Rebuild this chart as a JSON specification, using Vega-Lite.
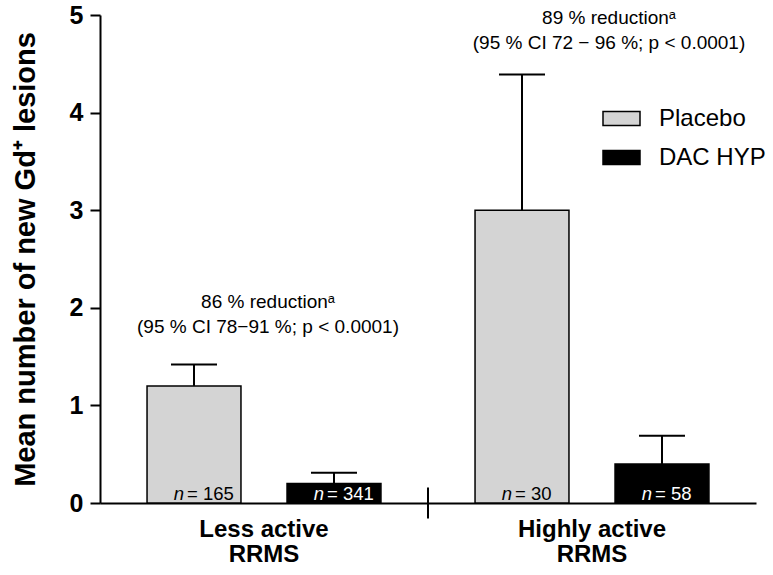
{
  "$schema": "https://vega.github.io/schema/vega-lite/v6.json",
  "autosize": "none",
  "width": 656,
  "height": 488,
  "padding": {"left": 100, "top": 15, "right": 17, "bottom": 72},
  "background": "white",
  "config": {
    "font": "Liberation Sans",
    "view": {"stroke": null}
  },
  "datasets": {
    "bars": [
      {"group": "Less active RRMS", "treatment": "Placebo", "mean": 1.2, "upper": 1.42, "nlabel": "= 165"},
      {"group": "Less active RRMS", "treatment": "DAC HYP", "mean": 0.2, "upper": 0.31, "nlabel": "= 341"},
      {"group": "Highly active RRMS", "treatment": "Placebo", "mean": 3.0, "upper": 4.39, "nlabel": "= 30"},
      {"group": "Highly active RRMS", "treatment": "DAC HYP", "mean": 0.4, "upper": 0.69, "nlabel": "= 58"}
    ],
    "notes": [
      {"group": "Less active RRMS", "y": 2.0, "label": "86 % reductionᵃ\n(95 % CI 78−91 %; p < 0.0001)"},
      {"group": "Highly active RRMS", "y": 4.91, "label": "89 % reductionᵃ\n(95 % CI 72 − 96 %; p < 0.0001)"}
    ],
    "divider": [
      {"group": "Highly active RRMS", "lo": -0.16, "hi": 0.16}
    ]
  },
  "encoding": {
    "x": {
      "field": "group",
      "type": "nominal",
      "scale": {"domain": ["Less active RRMS", "Highly active RRMS"], "paddingInner": 0, "paddingOuter": 0},
      "axis": {
        "title": null,
        "ticks": false,
        "labelAngle": 0,
        "labelFontSize": 24,
        "labelFontWeight": "bold",
        "labelColor": "black",
        "labelPadding": 14,
        "labelLineHeight": 25,
        "labelExpr": "[replace(datum.label, ' RRMS', ''), 'RRMS']",
        "domainColor": "black",
        "domainWidth": 2
      }
    }
  },
  "layer": [
    {
      "data": {"name": "bars"},
      "mark": {"type": "rule", "stroke": "black", "strokeWidth": 2},
      "encoding": {
        "xOffset": {"field": "treatment", "type": "nominal", "scale": {"domain": ["Placebo", "DAC HYP"], "paddingInner": 0.329, "paddingOuter": 0.336}},
        "y": {"field": "mean", "type": "quantitative"},
        "y2": {"field": "upper"}
      }
    },
    {
      "data": {"name": "bars"},
      "mark": {"type": "tick", "size": 46, "thickness": 2, "color": "black", "opacity": 1},
      "encoding": {
        "xOffset": {"field": "treatment", "type": "nominal"},
        "y": {"field": "upper", "type": "quantitative"}
      }
    },
    {
      "data": {"name": "bars"},
      "mark": {"type": "bar", "stroke": "black", "strokeWidth": 1.5, "opacity": 1},
      "encoding": {
        "xOffset": {"field": "treatment", "type": "nominal"},
        "y": {
          "field": "mean",
          "type": "quantitative",
          "scale": {"domain": [0, 5], "nice": false},
          "axis": {
            "values": [0, 1, 2, 3, 4, 5],
            "format": "d",
            "title": "Mean number of new Gd⁺ lesions",
            "titleFontSize": 29,
            "titleFontWeight": "bold",
            "titleColor": "black",
            "titleX": -75,
            "titleY": 244,
            "titleAlign": "center",
            "titleBaseline": "middle",
            "titleAngle": -90,
            "labelFontSize": 25,
            "labelFontWeight": "bold",
            "labelColor": "black",
            "labelPadding": 7,
            "tickSize": 10,
            "tickWidth": 2,
            "tickColor": "black",
            "domainColor": "black",
            "domainWidth": 2,
            "grid": false
          }
        },
        "fill": {
          "field": "treatment",
          "type": "nominal",
          "scale": {"domain": ["Placebo", "DAC HYP"], "range": ["#d4d4d4", "#000000"]},
          "legend": {
            "title": null,
            "orient": "none",
            "legendX": 502,
            "legendY": 84,
            "padding": 0,
            "labelFontSize": 24,
            "labelColor": "black",
            "labelOffset": 18,
            "rowPadding": 7,
            "symbolType": "M-1,-0.38L1,-0.38L1,0.38L-1,0.38Z",
            "symbolSize": 1369,
            "symbolStrokeColor": "black",
            "symbolStrokeWidth": 1.5,
            "symbolOpacity": 1
          }
        }
      }
    },
    {
      "data": {"name": "bars"},
      "mark": {"type": "text", "text": "n", "fontStyle": "italic", "fontSize": 18.5, "align": "right", "baseline": "alphabetic", "dx": -10, "dy": -3},
      "encoding": {
        "xOffset": {"field": "treatment", "type": "nominal"},
        "y": {"datum": 0},
        "color": {"condition": {"test": "datum.treatment === 'DAC HYP'", "value": "white"}, "value": "black"}
      }
    },
    {
      "data": {"name": "bars"},
      "mark": {"type": "text", "fontSize": 18.5, "align": "left", "baseline": "alphabetic", "dx": -7, "dy": -3},
      "encoding": {
        "xOffset": {"field": "treatment", "type": "nominal"},
        "y": {"datum": 0},
        "text": {"field": "nlabel", "type": "nominal"},
        "color": {"condition": {"test": "datum.treatment === 'DAC HYP'", "value": "white"}, "value": "black"}
      }
    },
    {
      "data": {"name": "notes"},
      "transform": [{"filter": "datum.group === 'Less active RRMS'"}],
      "mark": {"type": "text", "fontSize": 19, "align": "center", "baseline": "alphabetic", "lineBreak": "\n", "lineHeight": 25, "color": "black", "dx": 4},
      "encoding": {
        "y": {"field": "y", "type": "quantitative"},
        "text": {"field": "label", "type": "nominal"}
      }
    },
    {
      "data": {"name": "notes"},
      "transform": [{"filter": "datum.group === 'Highly active RRMS'"}],
      "mark": {"type": "text", "fontSize": 19, "align": "center", "baseline": "alphabetic", "lineBreak": "\n", "lineHeight": 25, "color": "black", "dx": 17},
      "encoding": {
        "y": {"field": "y", "type": "quantitative"},
        "text": {"field": "label", "type": "nominal"}
      }
    },
    {
      "data": {"name": "divider"},
      "mark": {"type": "rule", "stroke": "black", "strokeWidth": 2},
      "encoding": {
        "x": {"field": "group", "type": "nominal", "bandPosition": 0},
        "y": {"field": "lo", "type": "quantitative"},
        "y2": {"field": "hi"}
      }
    }
  ]
}
